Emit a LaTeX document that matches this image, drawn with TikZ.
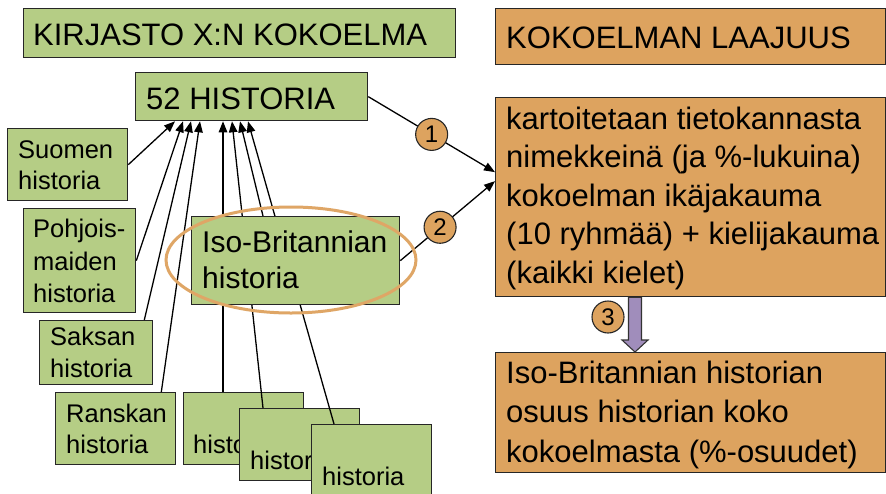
\documentclass[tikz,border=0pt]{standalone}
\usepackage{fontspec}
\setmainfont{Liberation Sans}
\usetikzlibrary{shapes.geometric,arrows.meta}
\pgfdeclarelayer{fore}
\pgfsetlayers{main,fore}
\definecolor{gfill}{HTML}{B5CD85}
\definecolor{ofill}{HTML}{DDA35F}
\definecolor{oline}{HTML}{DFA666}
\definecolor{pfill}{HTML}{A08DBB}
\begin{document}
\begin{tikzpicture}[x=1pt,y=-1pt,
  box/.style={draw=black!85, line width=1.3pt, inner sep=0pt, anchor=north west},
  gbox/.style={box, fill=gfill},
  obox/.style={box, fill=ofill},
  txt/.style={anchor=base west, inner sep=0pt},
  big/.style={txt, font=\fontsize{31}{37}\selectfont},
  small/.style={txt, font=\fontsize{25.5}{31}\selectfont},
  con/.style={line width=1.3pt, -{Triangle[length=11pt,width=8.5pt]}},
  circ/.style={circle, draw=black!85, fill=ofill, line width=1.1pt, minimum size=32pt, inner sep=0pt, font=\fontsize{24}{24}\selectfont},
  fat/.style={draw=black!80, line width=1.1pt, fill=pfill}]
\clip (0,0) rectangle (886,493);
\fill[white] (0,0) rectangle (886,493);
% titles
\node[gbox, minimum width=432pt, minimum height=49pt] (kirj) at (23,8) {};
\node[big] (kirjT) at (33,45) {KIRJASTO X:N KOKOELMA};
\node[obox, minimum width=390pt, minimum height=56pt] (laaj) at (495,8) {};
\node[big] (laajT) at (506,48) {KOKOELMAN LAAJUUS};
% 52 historia
\node[gbox, minimum width=232pt, minimum height=48pt] (hist) at (135,72) {};
\node[big] (histT) at (146,109) {52 HISTORIA};
% left boxes
\node[gbox, minimum width=120pt, minimum height=72pt] (suomen) at (7,128) {};
\node[small] (suomenT1) at (18,158) {Suomen};
\node[small] (suomenT2) at (18,189) {historia};
\node[gbox, minimum width=112pt, minimum height=104pt] (pohj) at (23,208) {};
\node[small] (pohjT1) at (33,237) {Pohjois-};
\node[small] (pohjT2) at (33,270) {maiden};
\node[small] (pohjT3) at (33,302) {historia};
\node[gbox, minimum width=113pt, minimum height=64pt] (saksan) at (39,320) {};
\node[small] (saksanT1) at (50,345) {Saksan};
\node[small] (saksanT2) at (50,377) {historia};
\node[gbox, minimum width=120pt, minimum height=72pt] (ransk) at (55,392) {};
\node[small] (ranskT1) at (66,422) {Ranskan};
\node[small] (ranskT2) at (66,453) {historia};
% stacked historia boxes (each partly hidden by the next)
\node[gbox, minimum width=120pt, minimum height=72pt] (h1) at (183,392) {};
\node[small] (h1T) at (193,453) {histo};
\node[gbox, minimum width=120pt, minimum height=72pt] (h2) at (239,408) {};
\node[small] (h2T) at (250,469) {histor};
\node[gbox, minimum width=120pt, minimum height=76pt] (h3) at (311,424) {};
\node[small] (h3T) at (322,485) {historia};
% Iso-Britannia on top layer
\begin{pgfonlayer}{fore}
\node[gbox, minimum width=208pt, minimum height=88pt] (isob) at (191,216) {};
\node[txt, font=\fontsize{30}{36}\selectfont] (isobT1) at (202,252) {Iso-Britannian};
\node[txt, font=\fontsize{30}{36}\selectfont] (isobT2) at (202,288) {historia};
\node[ellipse, draw=oline, line width=3pt, minimum width=250pt, minimum height=106pt, inner sep=0pt] (oval) at (291,260) {};
\end{pgfonlayer}
% connectors to 52 historia
\draw[con] (suomen.east) -- ([xshift=40pt]hist.south west);
\draw[con] (pohj.east) -- ([xshift=48pt]hist.south west);
\draw[con] ([xshift=-9pt]saksan.north east) -- ([xshift=56pt]hist.south west);
\draw[con] ([xshift=-15pt]ransk.north east) -- ([xshift=65pt]hist.south west);
\draw[con] ([xshift=40pt]h1.north west) -- ([xshift=88pt]hist.south west);
\draw[con] ([xshift=24pt]h2.north west) -- ([xshift=97pt]hist.south west);
\draw[con] ([xshift=72pt]isob.north west) -- ([xshift=105pt]hist.south west);
\draw[con] ([xshift=23pt]h3.north west) -- ([xshift=113pt]hist.south west);
% right boxes
\node[obox, minimum width=390pt, minimum height=199pt] (kart) at (495,97) {};
\node[big] (kartT1) at (506,129) {kartoitetaan tietokannasta};
\node[big] (kartT2) at (506,167.5) {nimekkeinä (ja \%-lukuina)};
\node[big] (kartT3) at (506,206) {kokoelman ikäjakauma};
\node[big] (kartT4) at (506,244.5) {(10 ryhmää) + kielijakauma};
\node[big] (kartT5) at (506,283) {(kaikki kielet)};
\node[obox, minimum width=390pt, minimum height=120pt] (iso2) at (495,352) {};
\node[big] (iso2T1) at (506,383) {Iso-Britannian historian};
\node[big] (iso2T2) at (506,422.5) {osuus historian koko};
\node[big] (iso2T3) at (506,462) {kokoelmasta (\%-osuudet)};
% numbered connectors
\draw[con] (hist.east) -- node[circ, pos=0.5] (c1) {1} ([yshift=25pt]kart.west);
\draw[con] (isob.east) -- node[circ, pos=0.42] (c2) {2} ([yshift=16pt]kart.west);
% fat arrow 3
\coordinate (a3s) at (kart.south -| 635,0);
\coordinate (a3e) at (iso2.north -| 635,0);
\draw[fat] ([xshift=-6.5pt]a3s) -- ([xshift=-6.5pt,yshift=12pt]a3e) -- ([xshift=-13pt,yshift=12pt]a3e) -- (a3e) -- ([xshift=13pt,yshift=12pt]a3e) -- ([xshift=6.5pt,yshift=12pt]a3e) -- ([xshift=6.5pt]a3s) -- cycle;
\node[circ] (c3) at (608,317) {3};
\end{tikzpicture}
\end{document}
